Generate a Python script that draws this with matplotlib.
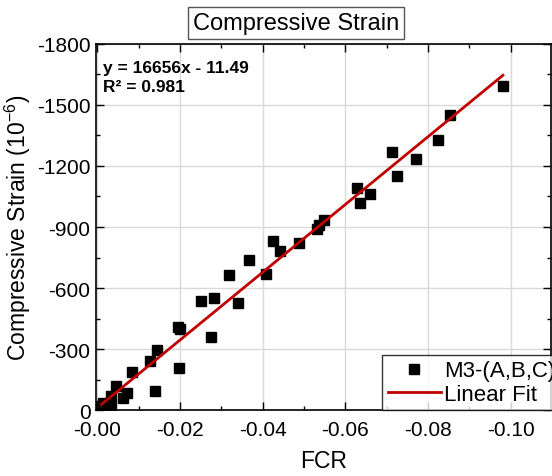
import matplotlib
matplotlib.use("Agg")
import matplotlib.pyplot as plt
import numpy as np
from matplotlib.ticker import MultipleLocator, FormatStrFormatter

plt.rcParams['font.family'] = ['Liberation Sans', 'DejaVu Sans']
plt.rcParams['axes.unicode_minus'] = False
plt.rcParams['mathtext.default'] = 'regular'

fcr = [-0.0010, -0.0014, -0.0026, -0.0032, -0.0034, -0.0045, -0.0062, -0.0071, -0.0084,
       -0.0127, -0.0139, -0.0145, -0.0195, -0.0201, -0.0198, -0.0252, -0.0274, -0.0282,
       -0.0319, -0.0341, -0.0366, -0.0409, -0.0424, -0.0441, -0.0487, -0.0532, -0.0536,
       -0.0548, -0.0627, -0.0635, -0.0659, -0.0713, -0.0724, -0.0770, -0.0823, -0.0852,
       -0.0981]
strain = [-19, -35, -19, -19, -71, -120, -60, -85, -188,
          -243, -96, -298, -407, -401, -208, -534, -361, -550,
          -663, -527, -740, -670, -829, -780, -822, -888, -911,
          -933, -1093, -1016, -1063, -1270, -1150, -1232, -1327, -1448,
          -1592]
slope = 16656
intercept = -11.49
r2 = 0.981

fig = plt.figure(figsize=(5.52, 4.77), dpi=100)
ax = fig.add_axes([0.174, 0.138, 0.824, 0.768])

ax.plot(fcr, strain, 's', color='black', ms=6.5, label='M3-(A,B,C)', zorder=3)
xf = np.array([max(fcr), min(fcr)])
ax.plot(xf, slope * xf + intercept, '-', color='#c00000', lw=2, label='Linear Fit', zorder=4)

ax.set_xlim(0.0003, -0.1097)
ax.set_ylim(0, -1800)
ax.xaxis.set_major_locator(MultipleLocator(0.02))
ax.xaxis.set_minor_locator(MultipleLocator(0.01))
ax.xaxis.set_major_formatter(FormatStrFormatter('%.2f'))
ax.yaxis.set_major_locator(MultipleLocator(300))
ax.yaxis.set_minor_locator(MultipleLocator(150))
ax.grid(True, which='major', color='#d9d9d9', lw=1)
ax.set_axisbelow(True)
ax.tick_params(which='both', direction='in', top=True, right=True, labelsize=15, width=1)
ax.tick_params(axis='x', which='major', pad=7)
ax.tick_params(axis='y', which='major', pad=4)
ax.tick_params(which='major', length=6)
ax.tick_params(which='minor', length=3)
for s in ax.spines.values():
    s.set_linewidth(1.2)

ax.set_xlabel('FCR', fontsize=16.5, labelpad=7)
ax.set_ylabel('Compressive Strain (10$^{-6}$)', fontsize=16.5, labelpad=3)

ax.text(0.015, 0.955, f'y = {slope}x - {abs(intercept)}\nR² = {r2}', transform=ax.transAxes,
        fontsize=12.5, fontweight='bold', va='top', ha='left', linespacing=1.3)

fig.text(0.536, 0.950, 'Compressive Strain', ha='center', va='center', fontsize=17,
         bbox=dict(boxstyle='square,pad=0.2', fc='white', ec='#555555', lw=1))

leg = ax.legend(loc='lower left', bbox_to_anchor=(0.629, 0.0), fontsize=16, frameon=True,
                fancybox=False, edgecolor='black', borderaxespad=0, handlelength=2.4,
                borderpad=0.25, labelspacing=0.1, handletextpad=0.15)
leg.get_frame().set_linewidth(1)

fig.savefig('out.png', dpi=100)
